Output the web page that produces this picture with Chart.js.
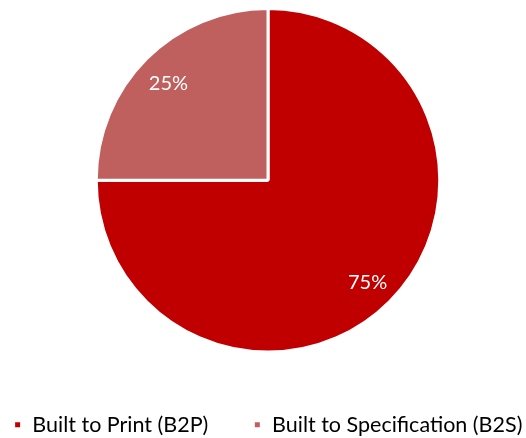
<!DOCTYPE html>
<html>
<head>
<meta charset="utf-8">
<script src="https://cdn.jsdelivr.net/npm/chart.js@4/dist/chart.umd.min.js"></script>
<style>
  html, body { margin: 0; padding: 0; background: #ffffff; }
  #wrap { width: 526px; height: 438px; position: relative; }
</style>
</head>
<body>
<div id="wrap"><canvas id="chart"></canvas></div>
<script>
// Share of production by build type
const categories = ['Built to Print (B2P)', 'Built to Specification (B2S)'];
const shares = [75, 25];
const sliceColors = ['#C00000', '#BF605E'];

const legendFontSize = 21.5;
const legendItemGap = 45;

// Writes each slice's percentage inside the slice
const sliceLabels = {
  id: 'sliceLabels',
  afterDatasetsDraw(chart) {
    const { ctx } = chart;
    const meta = chart.getDatasetMeta(0);
    const data = chart.data.datasets[0].data;
    const total = data.reduce((a, b) => a + b, 0);
    ctx.save();
    ctx.font = '20px Lato, "Open Sans", sans-serif';
    ctx.fillStyle = '#ffffff';
    ctx.textAlign = 'center';
    ctx.textBaseline = 'middle';
    meta.data.forEach((arc, i) => {
      const { x, y, startAngle, endAngle, outerRadius } = arc.getProps(['x', 'y', 'startAngle', 'endAngle', 'outerRadius'], true);
      const mid = (startAngle + endAngle) / 2;
      const r = outerRadius * 0.82;
      const pct = Math.round(data[i] / total * 100) + '%';
      ctx.fillText(pct, x + Math.cos(mid) * r, y + Math.sin(mid) * r + 3);
    });
    ctx.restore();
  }
};

// Keeps the legend on one row and leaves room between it and the pie
const legendLayout = {
  id: 'legendLayout',
  beforeInit(chart) {
    const legend = chart.legend;
    const fit = legend.fit;
    legend.fit = function () {
      const w = this.maxWidth;
      this.maxWidth = w + 200;
      fit.call(this);
      this.maxWidth = w;
      this.width = w;
      this.height += 8;
    };
    const draw = legend.draw;
    legend.draw = function () {
      const l = this.left, r = this.right;
      this.left = l - 100;
      this.right = r + 100;
      draw.call(this);
      this.left = l;
      this.right = r;
    };
  },
  afterLayout(chart) {
    chart.legend.top += 15.5;
    chart.legend.bottom += 15.5;
  }
};

new Chart(document.getElementById('chart'), {
  type: 'pie',
  data: {
    labels: categories,
    datasets: [{
      data: shares,
      backgroundColor: sliceColors,
      borderColor: '#ffffff',
      borderWidth: 3
    }]
  },
  options: {
    responsive: true,
    maintainAspectRatio: false,
    animation: false,
    layout: { padding: { top: 7, left: 10, right: 0, bottom: 0 } },
    plugins: {
      tooltip: { enabled: false },
      legend: {
        position: 'bottom',
        labels: {
          boxWidth: 8,
          boxHeight: 8,
          padding: legendItemGap,
          color: '#000000',
          font: { family: 'Lato, "Open Sans", sans-serif', size: legendFontSize }
        }
      }
    }
  },
  plugins: [sliceLabels, legendLayout]
});
</script>
</body>
</html>
